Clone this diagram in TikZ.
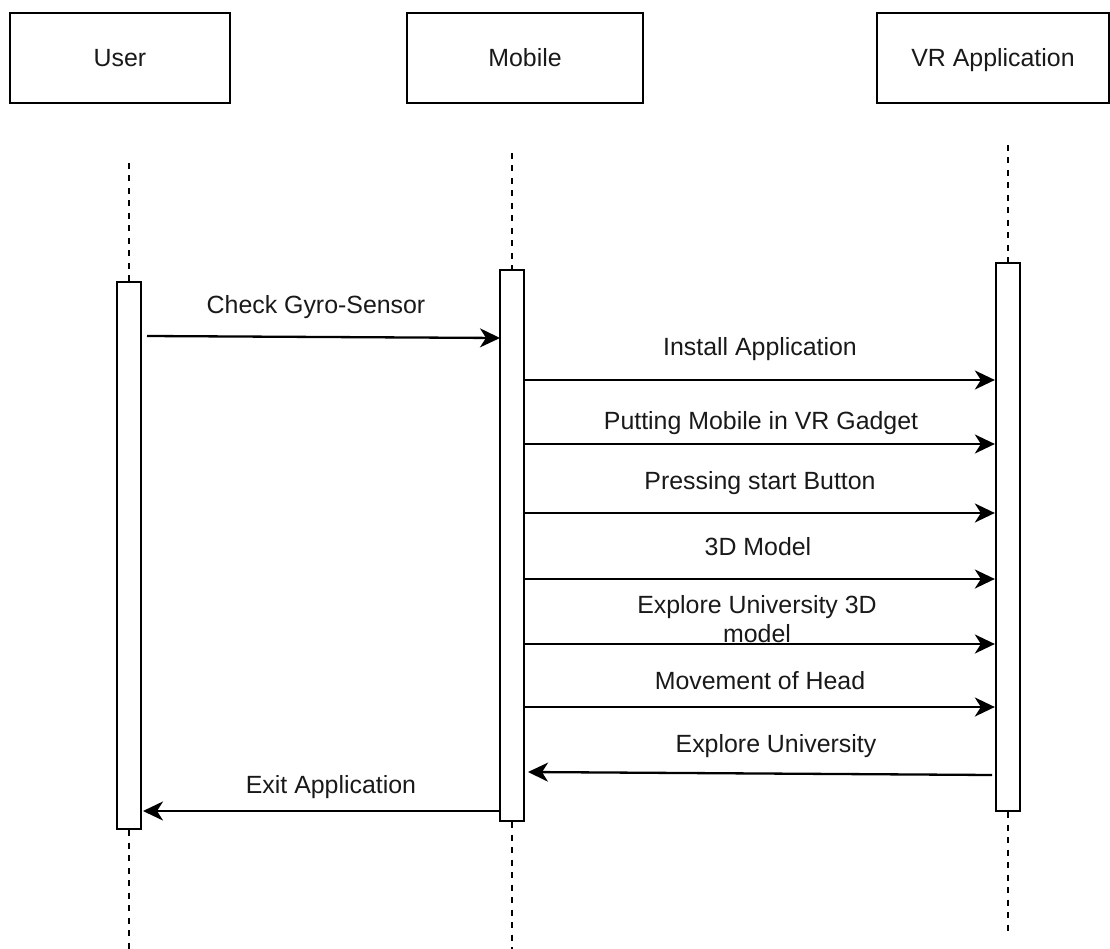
\documentclass[tikz,border=0pt]{standalone}
\usepackage{fontspec}
\setmainfont{Liberation Sans}
\usetikzlibrary{arrows.meta}
\begin{document}
\begin{tikzpicture}[x=1pt,y=-1pt,
  txt/.style={font=\fontsize{24.9}{30}\selectfont, inner sep=0pt,
              text height=18pt, text depth=0pt, text=black!90},
  actor/.style={txt, draw, line width=2.3pt, minimum height=90pt},
  bar/.style={draw, line width=2.3pt, fill=white, minimum width=24pt, inner sep=0pt},
  life/.style={line width=2.6pt, dash pattern=on 6pt off 6.5pt},
  msg/.style={line width=2.3pt, -{Stealth[length=20pt,width=19pt,inset=6pt]}},
  lbl/.style={txt, align=center}]
\useasboundingbox (0,0) rectangle (1110,949);

% participants
\node[actor, minimum width=220pt] (user)   at (120,58)  {User};
\node[actor, minimum width=236pt] (mobile) at (525,58)  {Mobile};
\node[actor, minimum width=232pt] (vr)     at (993,58)  {VR Application};

% activation bars
\node[bar, minimum height=547pt] (ubar) at (129,555.5) {};
\node[bar, minimum height=551pt] (mbar) at (512,545.5) {};
\node[bar, minimum height=548pt] (vbar) at (1008,537)  {};

% lifeline ends
\coordinate (utop) at (129,163);
\coordinate (ubot) at (129,949);
\coordinate (mtop) at (512,153);
\coordinate (mbot) at (512,949);
\coordinate (vtop) at (1008,145);
\coordinate (vbot) at (1008,935);

\draw[life] (utop) -- (ubar.north);
\draw[life] (ubar.south) -- (ubot);
\draw[life] (mtop) -- (mbar.north);
\draw[life] (mbar.south) -- (mbot);
\draw[life] (vtop) -- (vbar.north);
\draw[life] (vbar.south) -- (vtop |- vbot);

% message end points
\coordinate (g1) at (147,336);
\coordinate (g2) at (500,338);
\coordinate (eu1) at (992,775);
\coordinate (eu2) at (528,772);
\coordinate (ex1) at (500,811);
\coordinate (ex2) at (143,811);

% messages
\draw[msg] (g1) -- (g2);
\draw[msg] (mbar.east |- 0,380) -- (vbar.west |- 0,380);
\draw[msg] (mbar.east |- 0,444) -- (vbar.west |- 0,444);
\draw[msg] (mbar.east |- 0,513) -- (vbar.west |- 0,513);
\draw[msg] (mbar.east |- 0,579) -- (vbar.west |- 0,579);
\draw[msg] (mbar.east |- 0,644) -- (vbar.west |- 0,644);
\draw[msg] (mbar.east |- 0,707) -- (vbar.west |- 0,707);
\draw[msg] (eu1) -- (eu2);
\draw[msg] (ex1) -- (ex2);

% message labels
\node[lbl] (l1) at (316,304) {Check Gyro-Sensor};
\node[lbl] (l2) at (760,346) {Install Application};
\node[lbl] (l3) at (761,420) {Putting Mobile in VR Gadget};
\node[lbl] (l4) at (760,480) {Pressing start Button};
\node[lbl] (l5) at (758,546) {3D Model};
\node[lbl] (l6a) at (757,604) {Explore University 3D};
\node[lbl] (l6b) at (757,633) {model};
\node[lbl] (l7) at (760,680) {Movement of Head};
\node[lbl] (l8) at (776,743) {Explore University};
\node[lbl] (l9) at (331,784) {Exit Application};
\end{tikzpicture}
\end{document}
